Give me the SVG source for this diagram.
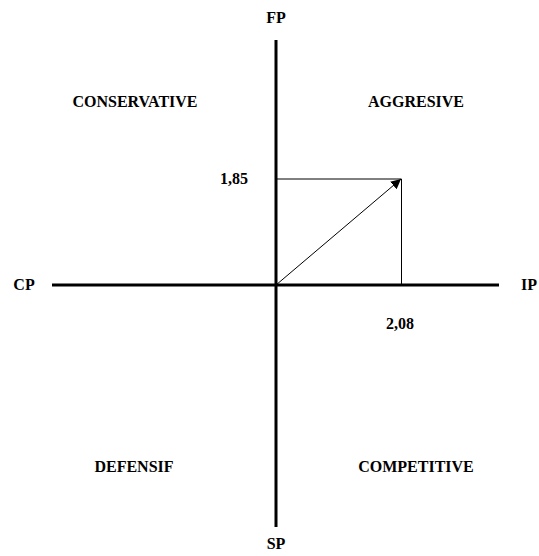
<svg xmlns="http://www.w3.org/2000/svg" width="539" height="556" viewBox="0 0 539 556">
<style>
text{font-family:"Liberation Serif","Times New Roman",serif;font-weight:bold;font-size:16px;fill:#000}
.axis{stroke:#000;stroke-width:3;fill:none}
.thin{stroke:#000;stroke-width:1;fill:none}
</style>
<defs>
<marker id="ah" viewBox="0 0 10 10" refX="10" refY="5" markerWidth="10" markerHeight="10" markerUnits="userSpaceOnUse" orient="auto">
<path d="M0,0 L10,5 L0,10 z" fill="#000"/>
</marker>
</defs>
<g id="connectors">
<line class="axis" x1="276" y1="40" x2="276" y2="527"/>
<line class="axis" x1="52" y1="285" x2="499" y2="285"/>
<polyline class="thin" points="276,179 401.5,179 401.5,285"/>
<line class="thin" x1="276" y1="285" x2="401" y2="179" marker-end="url(#ah)"/>
</g>
<g id="FP"><text x="276" y="23" text-anchor="middle">FP</text></g>
<g id="SP"><text x="276" y="549" text-anchor="middle">SP</text></g>
<g id="CP"><text x="24" y="290" text-anchor="middle">CP</text></g>
<g id="IP"><text x="529" y="290" text-anchor="middle">IP</text></g>
<g id="conservative"><text x="135" y="107" text-anchor="middle">CONSERVATIVE</text></g>
<g id="aggresive"><text x="416" y="107" text-anchor="middle">AGGRESIVE</text></g>
<g id="defensif"><text x="134" y="472" text-anchor="middle">DEFENSIF</text></g>
<g id="competitive"><text x="416" y="472" text-anchor="middle">COMPETITIVE</text></g>
<g id="v185"><text x="234" y="184" text-anchor="middle">1,85</text></g>
<g id="v208"><text x="400" y="329" text-anchor="middle">2,08</text></g>
</svg>
